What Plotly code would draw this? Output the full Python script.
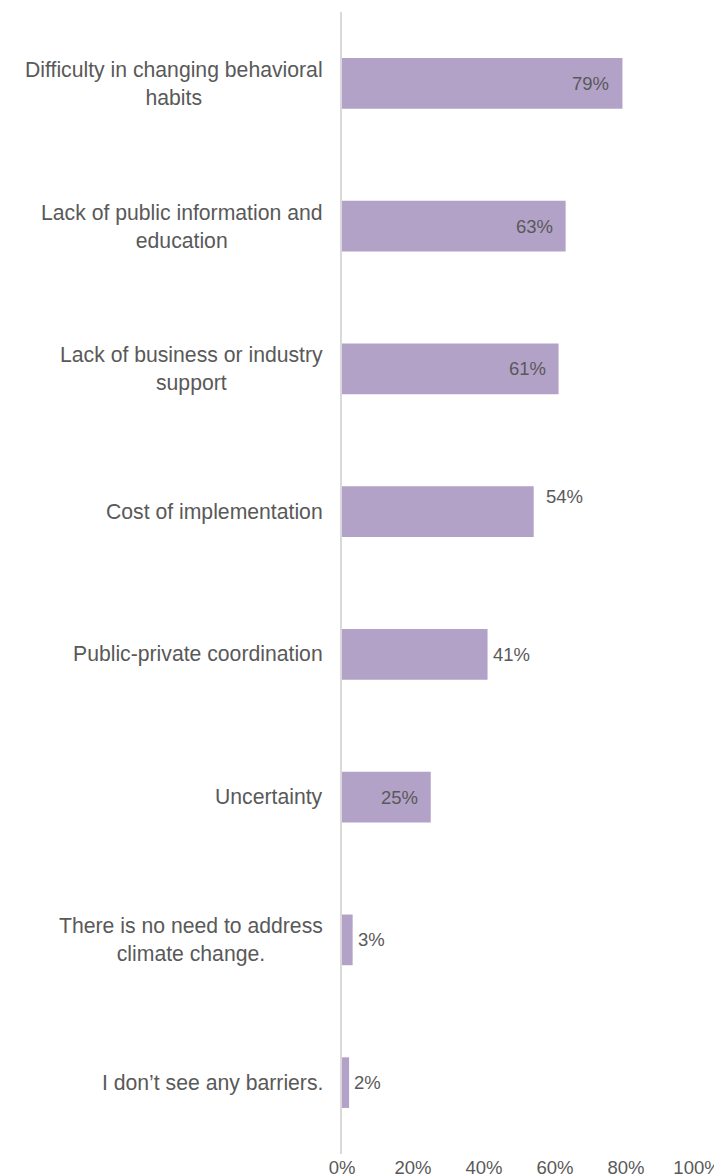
import plotly.graph_objects as go

categories = [
    "Difficulty in changing behavioral<br>habits",
    "Lack of public information and<br>education",
    "Lack of business or industry<br>support",
    "Cost of implementation",
    "Public-private coordination",
    "Uncertainty",
    "There is no need to address<br>climate change.",
    "I don\u2019t see any barriers.",
]
values = [79, 63, 61, 54, 41, 25, 3, 2]
label_inside = [True, True, True, False, False, True, False, False]
tick_vals = [0, 20, 40, 60, 80, 100]
tick_text = ["0%", "20%", "40%", "60%", "80%", "100%"]

BAR = "#B3A2C7"
TXT = "#595959"
FONT = "Arial, Liberation Sans, sans-serif"

fig = go.Figure()
fig.add_trace(go.Bar(
    x=values, y=categories, orientation="h",
    marker=dict(color=BAR, line=dict(width=0)),
    hoverinfo="skip",
))

annotations = []
for cat, v, inside in zip(categories, values, label_inside):
    if inside:
        annotations.append(dict(x=v, y=cat, xref="x", yref="y", text=f"{v}%",
                                showarrow=False, xanchor="right", xshift=-11,
                                font=dict(family=FONT, size=18.5, color=TXT)))
    else:
        ys = 15 if v == 54 else 0
        xs = 10 if v == 54 else 3
        annotations.append(dict(x=v, y=cat, xref="x", yref="y", text=f"{v}%",
                                showarrow=False, xanchor="left", xshift=xs, yshift=ys,
                                font=dict(family=FONT, size=18.5, color=TXT)))
    annotations.append(dict(x=0, y=cat, xref="paper", yref="y", text=cat,
                            showarrow=False, xanchor="right", xshift=-17, align="center",
                            font=dict(family=FONT, size=21.2, color=TXT)))

fig.update_layout(
    width=714, height=1168,
    margin=dict(l=334, r=25, t=4, b=22, autoexpand=False),
    paper_bgcolor="white", plot_bgcolor="white",
    bargap=0.645,
    showlegend=False,
    annotations=annotations,
    xaxis=dict(range=[0, 100], tickvals=tick_vals, ticktext=tick_text,
               showgrid=False, zeroline=False, showline=False, ticks="",
               ticklabeloverflow="allow",
               tickfont=dict(family=FONT, size=18.5, color=TXT), automargin=False),
    yaxis=dict(categoryorder="array", categoryarray=categories, autorange="reversed",
               showticklabels=False, showgrid=False, zeroline=False,
               showline=True, linecolor="#D9D9D9", linewidth=1.5, ticks="",
               automargin=False),
)

fig.write_html("out.html")
